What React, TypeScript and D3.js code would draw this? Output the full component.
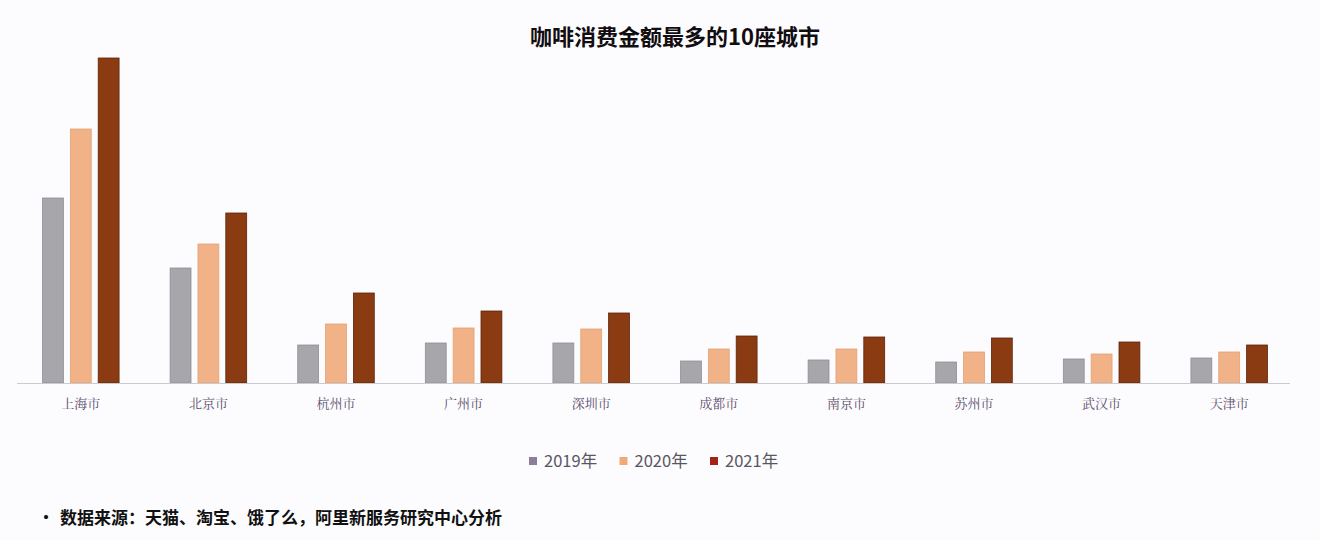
import * as d3 from 'd3';
import React from 'react';

// 城市与各年份数值（按图中柱高读取，单位为相对值）
const cities = ['上海市', '北京市', '杭州市', '广州市', '深圳市', '成都市', '南京市', '苏州市', '武汉市', '天津市'];
const years = ['2019年', '2020年', '2021年'];
const v2019 = [185, 115, 38, 40, 40, 22, 23, 21, 24, 25];
const v2020 = [254, 139, 59, 55, 54, 34, 34, 31, 29, 31];
const v2021 = [325, 170, 90, 72, 70, 47, 46, 45, 41, 38];

const title = '咖啡消费金额最多的10座城市';
const source = '数据来源：天猫、淘宝、饿了么，阿里新服务研究中心分析';

const fills = ['#a6a6ab', '#f0b286', '#8a3b12'];
const strokes = ['#8f8f96', '#e2a274', '#5e2409'];
const legendFills = ['#8c7d9a', '#f2a97a', '#a3231a'];

const W = 1320;
const H = 540;
const baseY = 383;

const App: React.FC = () => {
    const series = [v2019, v2020, v2021];

    // 外层：城市分组
    const x0 = d3.scaleBand<string>().domain(cities).range([17, 1293]).paddingInner(0.4).paddingOuter(0.2);
    // 内层：年份
    const x1 = d3.scaleBand<string>().domain(years).range([0, x0.bandwidth()]).paddingInner(0.25);
    const y = d3.scaleLinear().domain([0, 330]).range([baseY, 53]);

    const cjk = '"Noto Sans CJK SC", "Noto Sans", sans-serif';

    return (
        <svg width={W} height={H} style={{ position: 'absolute', left: 0, top: 0 }} fontFamily={cjk}>
            <rect width={W} height={H} fill="#fcfcfe" />

            <text x={675} y={45} textAnchor="middle" fontSize={22} fontWeight="bold" fill="#120d10">
                {title}
            </text>

            {cities.map((c, i) => (
                <g key={c} transform={`translate(${x0(c)},0)`}>
                    {series.map((s, j) => (
                        <rect
                            key={years[j]}
                            x={x1(years[j])}
                            y={y(s[i])}
                            width={x1.bandwidth()}
                            height={baseY - y(s[i])}
                            fill={fills[j]}
                            stroke={strokes[j]}
                            strokeWidth={0.8}
                        />
                    ))}
                    <text
                        x={x0.bandwidth() / 2}
                        y={408}
                        textAnchor="middle"
                        fontSize={13}
                        fill="#5d4c6c"
                        fontFamily='"Noto Serif CJK SC", "Noto Sans CJK SC", serif'
                    >
                        {c}
                    </text>
                </g>
            ))}

            <line x1={17} x2={1290} y1={baseY + 0.5} y2={baseY + 0.5} stroke="#c9cad2" strokeWidth={1} />

            {years.map((yr, j) => (
                <g key={yr} transform={`translate(${529 + j * 90.5},461)`}>
                    <rect x={0} y={-4} width={8} height={8} fill={legendFills[j]} />
                    <text x={15} y={5.5} fontSize={16.5} fill="#595663">
                        {yr}
                    </text>
                </g>
            ))}

            <text x={38} y={523} fontSize={16} fontWeight="bold" fill="#111">
                •
            </text>
            <text x={60} y={524} fontSize={17} fontWeight="bold" fill="#111">
                {source}
            </text>
        </svg>
    );
};

export default App;
